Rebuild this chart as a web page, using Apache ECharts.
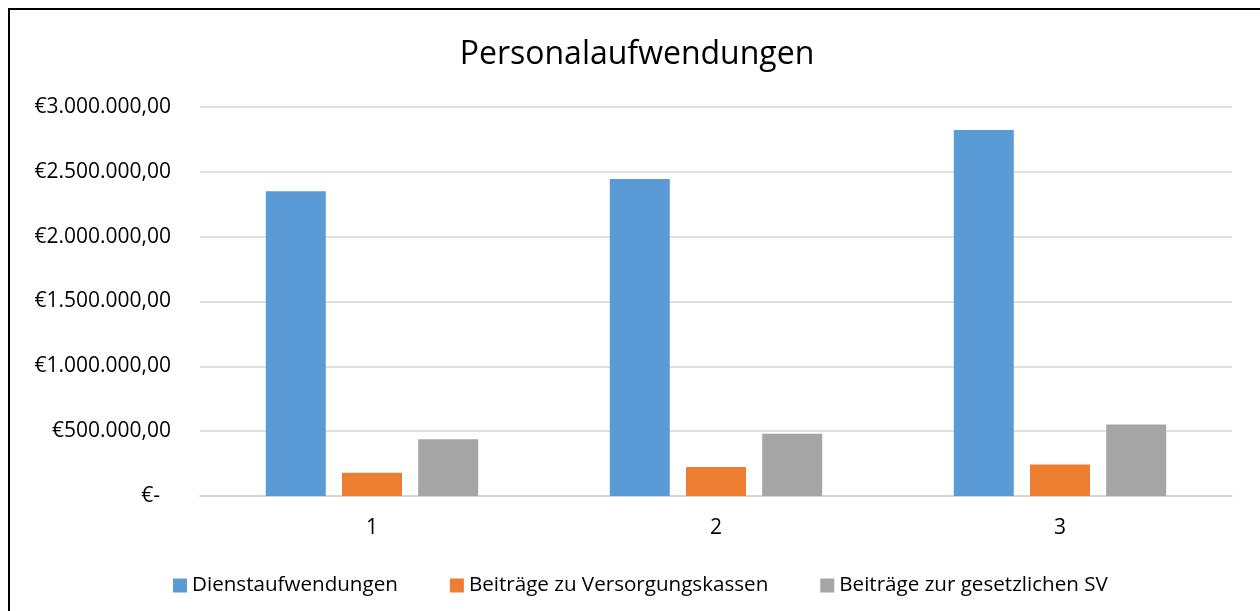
<!DOCTYPE html>
<html>
<head>
<meta charset="utf-8">
<title>Personalaufwendungen</title>
<script src="https://cdn.jsdelivr.net/npm/echarts@6/dist/echarts.min.js"></script>
<style>
	html, body { margin: 0; padding: 0; background: #fff; overflow: hidden; }
	#frame { position: absolute; left: 8px; top: 8px; width: 1300px; height: 700px; border: 2px solid #000; box-sizing: border-box; }
	#main { position: absolute; left: 0; top: 0; width: 1260px; height: 611px; }
</style>
</head>
<body>
<div id="frame"></div>
<div id="main"></div>
<script>
	// Daten
	var categories = ['1', '2', '3'];
	var seriesNames = ['Dienstaufwendungen', 'Beiträge zu Versorgungskassen', 'Beiträge zur gesetzlichen SV'];
	var dienstaufwendungen = [2351000, 2444000, 2822000];
	var versorgungskassen = [180000, 224000, 242000];
	var gesetzlicheSV = [437000, 481000, 551000];
	var colors = ['#5B9BD5', '#ED7D31', '#A5A5A5'];

	var fontFamily = '"Open Sans", "Noto Sans", sans-serif';

	// Zahl im deutschen Format: €3.000.000,00
	function formatEuro(value){
		if(!value){
			return '€-  ';
		}
		var parts = value.toFixed(2).split('.');
		var intPart = parts[0].replace(/\B(?=(\d{3})+(?!\d))/g, '.');
		return '€' + intPart + ',' + parts[1];
	}

	var chart = echarts.init(document.getElementById('main'), null, {renderer: 'canvas'});

	var seriesData = [dienstaufwendungen, versorgungskassen, gesetzlicheSV];
	var series = [];
	for(var i = 0; i < seriesNames.length; i++){
		series.push({
			name: seriesNames[i],
			type: 'bar',
			data: seriesData[i],
			barWidth: 60,
			barGap: '27%',
			itemStyle: { color: colors[i] }
		});
	}

	chart.setOption({
		animation: false,
		backgroundColor: 'transparent',
		color: colors,
		textStyle: { fontFamily: fontFamily },
		title: {
			text: 'Personalaufwendungen',
			left: 632,
			textAlign: 'center',
			top: 34,
			textStyle: { fontFamily: fontFamily, fontSize: 32, fontWeight: 'normal', color: '#000' }
		},
		legend: {
			data: seriesNames,
			left: 168,
			top: 570,
			icon: 'rect',
			itemWidth: 14,
			itemHeight: 14,
			itemGap: 52,
			textStyle: { fontFamily: fontFamily, fontSize: 20.6, color: '#000' }
		},
		grid: {
			left: 200,
			width: 1032,
			top: 107,
			height: 389,
			containLabel: false
		},
		xAxis: {
			type: 'category',
			data: categories,
			axisTick: { show: false },
			axisLine: { lineStyle: { color: '#d4d4d4', width: 1.5 } },
			axisLabel: { fontFamily: fontFamily, fontSize: 21, color: '#000', margin: 22 }
		},
		yAxis: {
			type: 'value',
			min: 0,
			max: 3000000,
			interval: 500000,
			axisLine: { show: false },
			axisTick: { show: false },
			splitLine: { lineStyle: { color: '#d4d4d4', width: 1.5 } },
			axisLabel: {
				fontFamily: fontFamily,
				fontSize: 21,
				color: '#000',
				margin: 29,
				formatter: formatEuro
			}
		},
		series: series
	});
</script>
</body>
</html>
